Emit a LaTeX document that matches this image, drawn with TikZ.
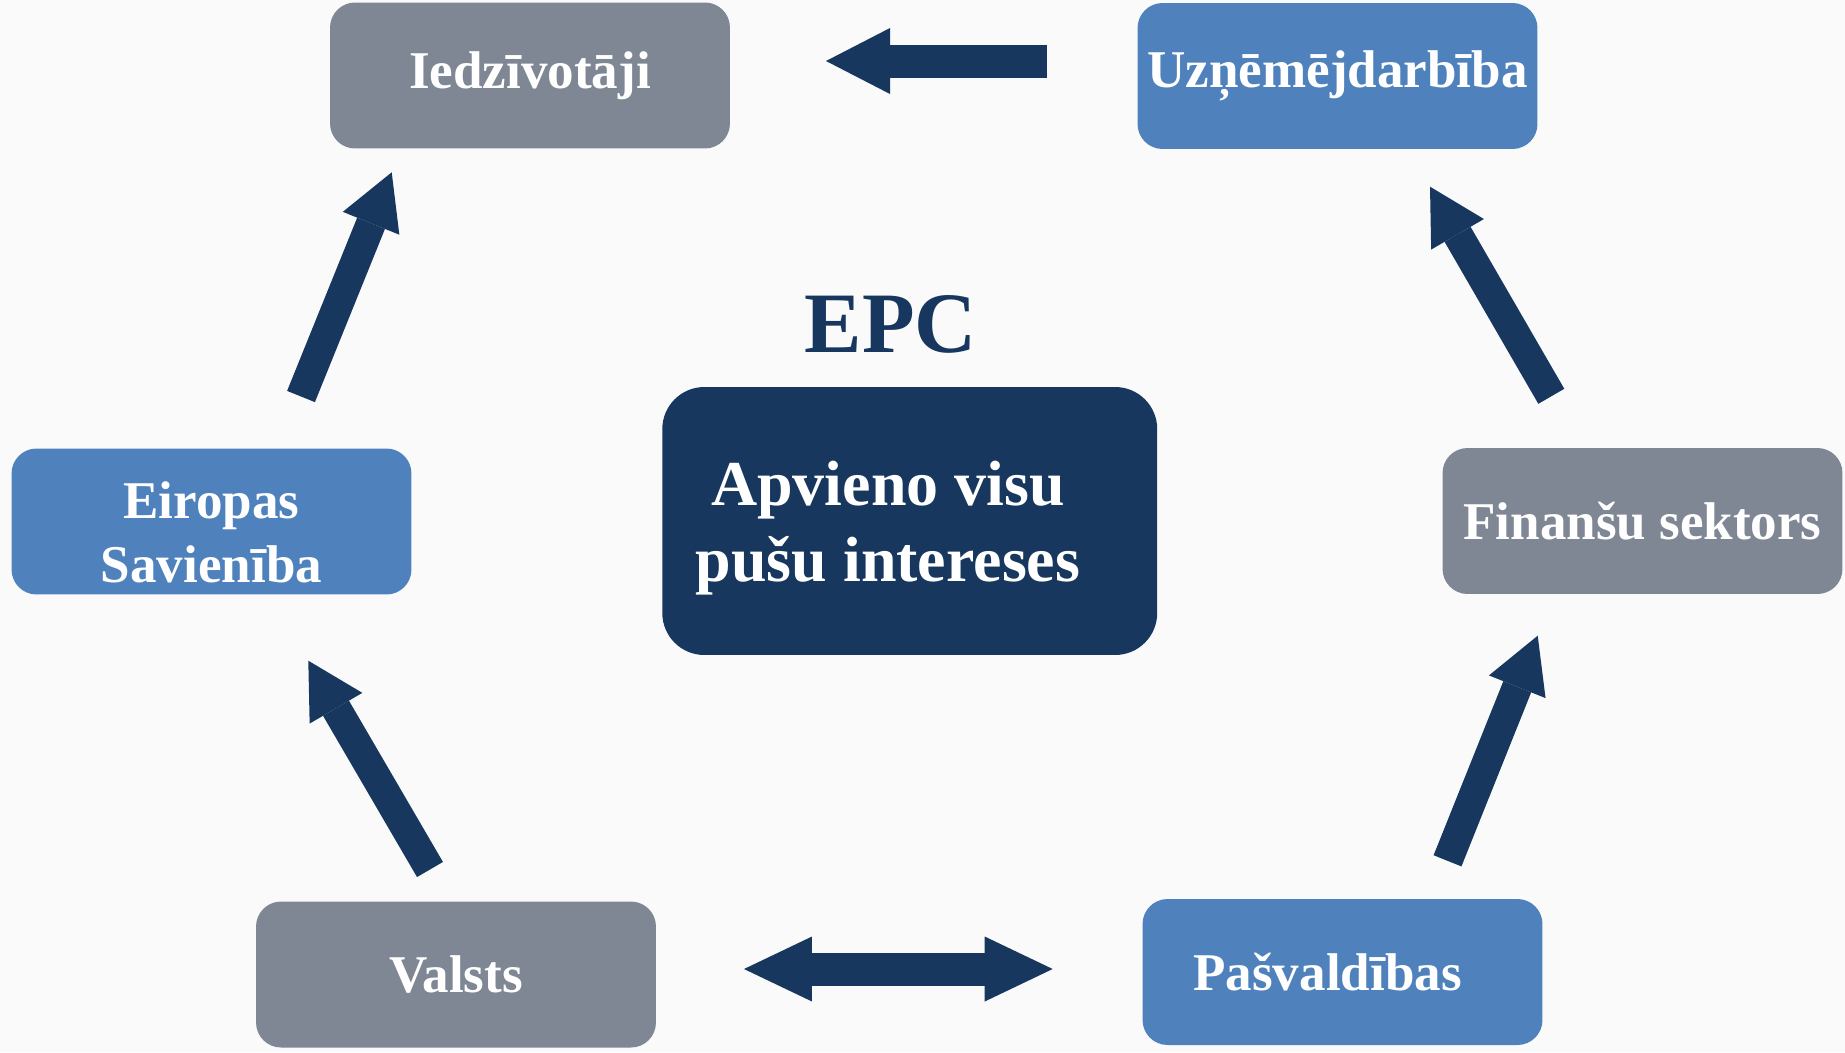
\documentclass[tikz,border=0pt]{standalone}
\usepackage{fontspec}
\setmainfont{Liberation Serif}
\usetikzlibrary{arrows.meta}
\definecolor{boxgrey}{HTML}{7F8794}
\definecolor{boxblue}{HTML}{4F81BD}
\definecolor{navy}{HTML}{17375E}
\definecolor{paper}{HTML}{FAFAFA}
\tikzstyle{label} = [align=center, text=white, font=\fontsize{30.2pt}{36pt}\selectfont\bfseries]
\tikzstyle{actor} = [label, rectangle, rounded corners=0.5cm, minimum width=8cm, minimum height=2.92cm, inner sep=0pt]
\tikzstyle{greybox} = [actor, fill=boxgrey]
\tikzstyle{bluebox} = [actor, fill=boxblue]
\tikzstyle{core} = [rectangle, rounded corners=0.84cm, minimum width=9.9cm, minimum height=5.36cm, fill=navy]
\tikzstyle{bigarrow} = [line width=0.6cm, draw=navy, -{Triangle[length=1.1cm, width=1.22cm, line width=0pt]}]
\tikzstyle{flatarrow} = [line width=0.66cm, draw=navy, -{Triangle[length=1.28cm, width=1.32cm, line width=0pt]}]
\tikzstyle{twoarrow} = [flatarrow, {Triangle[length=1.36cm, width=1.3cm, line width=0pt]}-{Triangle[length=1.36cm, width=1.3cm, line width=0pt]}]

\begin{document}
\begin{tikzpicture}[x=0.02cm, y=-0.02cm]
   \useasboundingbox[fill=paper] (0,0) rectangle (1845,1052);
   \node (iedz) [greybox] at (530,75.5) {Iedzīvotāji};
   \node (uzn) [bluebox] at (1337.5,76) {Uzņēmējdarbība};
   \node (eu) [bluebox] at (211.5,521.5) {};
   \node (eutext) [label] at (211.5,541.5) {Eiropas\\Savienība\strut};
   \node (fin) [greybox] at (1642.5,521) {Finanšu sektors};
   \node (valsts) [greybox] at (456,974.5) {Valsts};
   \node (pasv) [bluebox] at (1342.5,972) {Pašvaldības\hspace*{0.6cm}};
   \node (epc) [core] at (909.75,521) {};
   \node (epctext) at (888,528) [text=white, align=center, font=\fontsize{36.4pt}{43.6pt}\selectfont\bfseries] {Apvieno visu\\pušu intereses};
   \node (epctitle) at (891,324) [text=navy, font=\fontsize{49pt}{58pt}\selectfont\bfseries] {EPC};
   \coordinate (uzn-out) at (1047,61);
   \coordinate (iedz-in) at (826,61);
   \coordinate (eu-out) at (301,396.5);
   \coordinate (iedz-in2) at (391.7,172.3);
   \coordinate (fin-out) at (1551.3,396.3);
   \coordinate (uzn-in) at (1430,186.7);
   \coordinate (valsts-out) at (430,869.5);
   \coordinate (eu-in) at (308.3,660.7);
   \coordinate (pasv-out) at (1447.5,860.8);
   \coordinate (fin-in) at (1537.7,635.7);
   \coordinate (valsts-end) at (744,969);
   \coordinate (pasv-end) at (1052.7,969);
   \draw [flatarrow] (uzn-out) -- (iedz-in);
   \draw [bigarrow] (eu-out) -- (iedz-in2);
   \draw [bigarrow] (fin-out) -- (uzn-in);
   \draw [bigarrow] (valsts-out) -- (eu-in);
   \draw [bigarrow] (pasv-out) -- (fin-in);
   \draw [twoarrow] (valsts-end) -- (pasv-end);
\end{tikzpicture}
\end{document}
